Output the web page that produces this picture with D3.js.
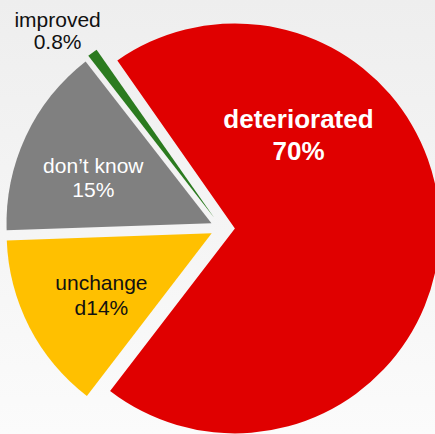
<!DOCTYPE html>
<html>
<head>
<meta charset="utf-8">
<script src="https://cdn.jsdelivr.net/npm/d3@7"></script>
<style>
  html, body { margin: 0; padding: 0; background: #f4f4f4; }
  svg { display: block; }
</style>
</head>
<body>
<div id="chart"></div>
<script>
// ---- data ----
const categories = ["deteriorated", "unchanged", "don't know", "improved"];
const values = [70, 14, 15, 0.8];
const labelLines = [
  ["deteriorated", "70%"],
  ["unchange", "d14%"],
  ["don\u2019t know", "15%"],
  ["improved", "0.8%"]
];

// ---- style / layout (not data) ----
const colors = ["#e00000", "#ffc000", "#808080", "#2b7b1f"];
const textColors = ["#ffffff", "#111111", "#ffffff", "#111111"];
const fontWeights = ["bold", "normal", "normal", "normal"];
const fontSizes = [26, 21, 21, 21];
const explode = [13, 11.5, 11.5, 13];
// label anchor positions relative to pie centre (first baseline) and line gaps
const labelOffsets = [[76.6, -99.8], [-120.5, 61.9], [-128.6, -54.8], [-164.3, -201.4]];
const lineGaps = [31.7, 25.5, 24, 22];

const W = 435, H = 434;
const cx = 221.9, cy = 228.1, R = 205;

const svg = d3.select("#chart").append("svg")
  .attr("width", W).attr("height", H);

const defs = svg.append("defs");
const grad = defs.append("linearGradient")
  .attr("id", "bg").attr("x1", 0).attr("y1", 0).attr("x2", 0).attr("y2", 1);
grad.append("stop").attr("offset", "0%").attr("stop-color", "#eeeeee");
grad.append("stop").attr("offset", "100%").attr("stop-color", "#fbfbfb");
svg.append("rect").attr("width", W).attr("height", H).attr("fill", "url(#bg)");

const pie = d3.pie().sort(null)
  .startAngle(-35 * Math.PI / 180)
  .endAngle(325 * Math.PI / 180);
const arcs = pie(values);
const arc = d3.arc().innerRadius(0).outerRadius(R);

const g = svg.append("g").attr("transform", `translate(${cx},${cy})`);

g.selectAll("path.slice")
  .data(arcs)
  .join("path")
  .attr("class", "slice")
  .attr("fill", (d, i) => colors[i])
  .attr("transform", (d, i) => {
    const a = (d.startAngle + d.endAngle) / 2;
    return `translate(${Math.sin(a) * explode[i]},${-Math.cos(a) * explode[i]})`;
  })
  .attr("d", arc);

const labels = g.selectAll("text.lbl")
  .data(arcs)
  .join("text")
  .attr("class", "lbl")
  .attr("text-anchor", "middle")
  .attr("font-family", "'Liberation Sans', Arial, sans-serif")
  .attr("font-size", (d, i) => fontSizes[i])
  .attr("font-weight", (d, i) => fontWeights[i])
  .attr("fill", (d, i) => textColors[i]);

labels.each(function(d, i) {
  const t = d3.select(this);
  labelLines[i].forEach((line, k) => {
    t.append("tspan")
      .attr("x", labelOffsets[i][0])
      .attr("y", labelOffsets[i][1] + k * lineGaps[i])
      .text(line);
  });
});
</script>
</body>
</html>
